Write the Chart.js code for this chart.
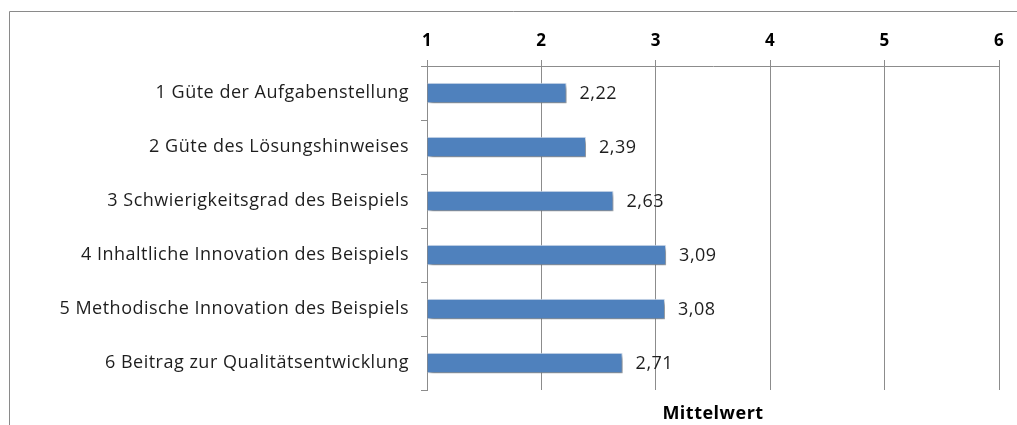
<!DOCTYPE html>
<html>
<head>
<meta charset="utf-8">
<script src="https://cdn.jsdelivr.net/npm/chart.js@4"></script>
<style>
  html, body { margin: 0; padding: 0; background: #fff; }
  #box { width: 1017px; height: 425px; }
</style>
</head>
<body>
<div id="box"><canvas id="grafico"></canvas></div>
<script>
const kategorien = [
  '1 Güte der Aufgabenstellung',
  '2 Güte des Lösungshinweises',
  '3 Schwierigkeitsgrad des Beispiels',
  '4 Inhaltliche Innovation des Beispiels',
  '5 Methodische Innovation des Beispiels',
  '6 Beitrag zur Qualitätsentwicklung'
]
const mittelwerte = [2.22, 2.39, 2.63, 3.09, 3.08, 2.71]
const skalaMin = 1
const skalaMax = 6
const achsenTitel = 'Mittelwert'

const schrift = "'Open Sans', sans-serif"
const gitterFarbe = '#8c8c8c'

// rahmen links und oben wie im original, dazu etwas sperrsatz
const rahmen = {
  id: 'rahmen',
  beforeDraw(chart) {
    const c = chart.ctx
    c.letterSpacing = '0.5px'
    c.save()
    c.strokeStyle = '#8a8a8a'
    c.lineWidth = 1
    c.beginPath()
    c.moveTo(9.5, 425)
    c.lineTo(9.5, 11.5)
    c.lineTo(1017, 11.5)
    c.stroke()
    c.restore()
  }
}

// schatten unter den balken
const schatten = {
  id: 'schatten',
  beforeDatasetsDraw(chart) {
    const c = chart.ctx
    c.save()
    c.shadowColor = 'rgba(0,0,0,0.45)'
    c.shadowBlur = 4
    c.shadowOffsetX = 2
    c.shadowOffsetY = 3
  },
  afterDatasetsDraw(chart) {
    chart.ctx.restore()
  }
}

// werte rechts neben die balken schreiben
const beschriftung = {
  id: 'beschriftung',
  afterDatasetsDraw(chart) {
    const c = chart.ctx
    const meta = chart.getDatasetMeta(0)
    c.save()
    c.font = '18px ' + schrift
    c.fillStyle = '#1e1e1e'
    c.textAlign = 'left'
    c.textBaseline = 'middle'
    meta.data.forEach((bar, i) => {
      const txt = mittelwerte[i].toFixed(2).replace('.', ',')
      c.fillText(txt, bar.x + 13, bar.y + 1)
    })
    c.restore()
  }
}

const ctx = document.querySelector('#grafico')

new Chart(ctx, {
  type: 'bar',
  data: {
    labels: kategorien,
    datasets: [{
      label: achsenTitel,
      data: mittelwerte,
      base: skalaMin,
      backgroundColor: '#4f81bd',
      borderColor: '#dbe5f1',
      borderWidth: 1,
      categoryPercentage: 1,
      barPercentage: 0.38
    }]
  },
  options: {
    indexAxis: 'y',
    responsive: true,
    maintainAspectRatio: false,
    animation: false,
    layout: { padding: { left: 12, right: 18, top: 14, bottom: 0 } },
    plugins: {
      legend: { display: false },
      tooltip: { enabled: false }
    },
    scales: {
      x: {
        position: 'top',
        min: skalaMin,
        max: skalaMax,
        ticks: {
          stepSize: 1,
          color: '#000',
          padding: 9,
          font: { family: schrift, size: 17, weight: 'bold' }
        },
        grid: { color: gitterFarbe, tickLength: 6 },
        border: { color: gitterFarbe },
        afterFit(scale) { scale.height = 52 }
      },
      x2: {
        position: 'bottom',
        min: skalaMin,
        max: skalaMax,
        ticks: { display: false },
        grid: { display: false, drawTicks: false },
        border: { display: false },
        title: {
          display: true,
          text: achsenTitel,
          color: '#000',
          padding: { top: 12, bottom: 0 },
          font: { family: schrift, size: 18, weight: 'bold' }
        },
        afterFit(scale) { scale.height = 35 }
      },
      y: {
        ticks: {
          color: '#1e1e1e',
          padding: 12,
          font: { family: schrift, size: 18 }
        },
        grid: { drawOnChartArea: false, color: gitterFarbe, tickLength: 6 },
        border: { color: gitterFarbe },
        afterFit(scale) { scale.width = 415 }
      }
    }
  },
  plugins: [rahmen, schatten, beschriftung]
})
</script>
</body>
</html>
